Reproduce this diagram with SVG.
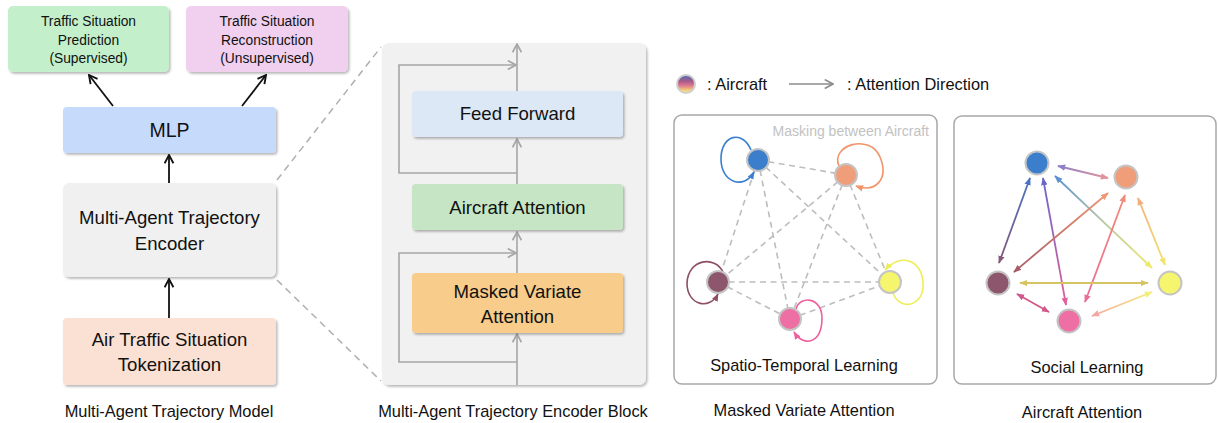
<svg xmlns="http://www.w3.org/2000/svg" width="1218" height="423" viewBox="0 0 1218 423">
  <defs>
    <style>
      text { font-family: "Liberation Sans", Arial, sans-serif; fill: #111; text-anchor: middle; }
      .t12 { font-size: 13.8px; }
      .t17 { font-size: 18.6px; }
      .cap { font-size: 16.4px; }
      .legend { font-size: 16.4px; text-anchor: start; }
      .box { stroke: none; filter: url(#shadow); }
      .blk-arrow { fill: none; stroke: #a6a6a6; stroke-width: 1.6; marker-end: url(#chev-gray); }
      .main-arrow { fill: none; stroke: #111; stroke-width: 1.8; marker-end: url(#chev-black); }
      .zoom-line { fill: none; stroke: #b0b0b0; stroke-width: 1.5; stroke-dasharray: 7 5; }
      .mask-line { fill: none; stroke: #bdbdbd; stroke-width: 1.6; stroke-dasharray: 6 4.5; }
      .panel { fill: #fff; stroke: #a8a8a8; stroke-width: 1.5; }
      .node { stroke: #c4c4c4; stroke-width: 2; }
      .loop { fill: none; stroke-width: 1.6; }
      .att { fill: none; stroke-width: 1.8; }
    </style>

    <filter id="shadow" x="-10%" y="-10%" width="125%" height="130%">
      <feDropShadow dx="1.5" dy="1.8" stdDeviation="1.2" flood-color="#000" flood-opacity="0.28"/>
    </filter>

    <!-- open chevron arrowheads -->
    <marker id="chev-black" viewBox="0 0 10 10" refX="9" refY="5" markerWidth="11" markerHeight="11" markerUnits="userSpaceOnUse" orient="auto">
      <path d="M1.5,1 L9,5 L1.5,9" fill="none" stroke="#111" stroke-width="1.7"/>
    </marker>
    <marker id="chev-gray" viewBox="0 0 10 10" refX="9" refY="5" markerWidth="11" markerHeight="11" markerUnits="userSpaceOnUse" orient="auto">
      <path d="M1.5,1 L9,5 L1.5,9" fill="none" stroke="#a6a6a6" stroke-width="1.5"/>
    </marker>
    <marker id="chev-legend" viewBox="0 0 10 10" refX="9" refY="5" markerWidth="11" markerHeight="11" markerUnits="userSpaceOnUse" orient="auto">
      <path d="M1.5,1 L9,5 L1.5,9" fill="none" stroke="#8c8c8c" stroke-width="1.5"/>
    </marker>

    <!-- filled arrowheads for self loops and attention edges -->
    <marker id="h-blue" viewBox="0 0 10 10" refX="9" refY="5" markerWidth="8" markerHeight="8" markerUnits="userSpaceOnUse" orient="auto-start-reverse"><path d="M0,1 L10,5 L0,9 z" fill="#3a7fd0"/></marker>
    <marker id="h-orange" viewBox="0 0 10 10" refX="9" refY="5" markerWidth="8" markerHeight="8" markerUnits="userSpaceOnUse" orient="auto-start-reverse"><path d="M0,1 L10,5 L0,9 z" fill="#f2946a"/></marker>
    <marker id="h-maroon" viewBox="0 0 10 10" refX="9" refY="5" markerWidth="8" markerHeight="8" markerUnits="userSpaceOnUse" orient="auto-start-reverse"><path d="M0,1 L10,5 L0,9 z" fill="#8e4f66"/></marker>
    <marker id="h-yellow" viewBox="0 0 10 10" refX="9" refY="5" markerWidth="8" markerHeight="8" markerUnits="userSpaceOnUse" orient="auto-start-reverse"><path d="M0,1 L10,5 L0,9 z" fill="#eeee5c"/></marker>
    <marker id="h-pink" viewBox="0 0 10 10" refX="9" refY="5" markerWidth="8" markerHeight="8" markerUnits="userSpaceOnUse" orient="auto-start-reverse"><path d="M0,1 L10,5 L0,9 z" fill="#ec5f9c"/></marker>

    <marker id="a-bo1" viewBox="0 0 10 10" refX="9" refY="5" markerWidth="8" markerHeight="8" markerUnits="userSpaceOnUse" orient="auto-start-reverse"><path d="M0,1 L10,5 L0,9 z" fill="#8e7fc6"/></marker>
    <marker id="a-bo2" viewBox="0 0 10 10" refX="9" refY="5" markerWidth="8" markerHeight="8" markerUnits="userSpaceOnUse" orient="auto-start-reverse"><path d="M0,1 L10,5 L0,9 z" fill="#e3939a"/></marker>
    <marker id="a-bm1" viewBox="0 0 10 10" refX="9" refY="5" markerWidth="8" markerHeight="8" markerUnits="userSpaceOnUse" orient="auto-start-reverse"><path d="M0,1 L10,5 L0,9 z" fill="#4a72c2"/></marker>
    <marker id="a-bm2" viewBox="0 0 10 10" refX="9" refY="5" markerWidth="8" markerHeight="8" markerUnits="userSpaceOnUse" orient="auto-start-reverse"><path d="M0,1 L10,5 L0,9 z" fill="#86587a"/></marker>
    <marker id="a-bp1" viewBox="0 0 10 10" refX="9" refY="5" markerWidth="8" markerHeight="8" markerUnits="userSpaceOnUse" orient="auto-start-reverse"><path d="M0,1 L10,5 L0,9 z" fill="#6a66cc"/></marker>
    <marker id="a-bp2" viewBox="0 0 10 10" refX="9" refY="5" markerWidth="8" markerHeight="8" markerUnits="userSpaceOnUse" orient="auto-start-reverse"><path d="M0,1 L10,5 L0,9 z" fill="#e0609c"/></marker>
    <marker id="a-by1" viewBox="0 0 10 10" refX="9" refY="5" markerWidth="8" markerHeight="8" markerUnits="userSpaceOnUse" orient="auto-start-reverse"><path d="M0,1 L10,5 L0,9 z" fill="#5a92d0"/></marker>
    <marker id="a-by2" viewBox="0 0 10 10" refX="9" refY="5" markerWidth="8" markerHeight="8" markerUnits="userSpaceOnUse" orient="auto-start-reverse"><path d="M0,1 L10,5 L0,9 z" fill="#eeea70"/></marker>
    <marker id="a-om1" viewBox="0 0 10 10" refX="9" refY="5" markerWidth="8" markerHeight="8" markerUnits="userSpaceOnUse" orient="auto-start-reverse"><path d="M0,1 L10,5 L0,9 z" fill="#ee9672"/></marker>
    <marker id="a-om2" viewBox="0 0 10 10" refX="9" refY="5" markerWidth="8" markerHeight="8" markerUnits="userSpaceOnUse" orient="auto-start-reverse"><path d="M0,1 L10,5 L0,9 z" fill="#a85a66"/></marker>
    <marker id="a-op1" viewBox="0 0 10 10" refX="9" refY="5" markerWidth="8" markerHeight="8" markerUnits="userSpaceOnUse" orient="auto-start-reverse"><path d="M0,1 L10,5 L0,9 z" fill="#f08a78"/></marker>
    <marker id="a-op2" viewBox="0 0 10 10" refX="9" refY="5" markerWidth="8" markerHeight="8" markerUnits="userSpaceOnUse" orient="auto-start-reverse"><path d="M0,1 L10,5 L0,9 z" fill="#ec6c96"/></marker>
    <marker id="a-oy1" viewBox="0 0 10 10" refX="9" refY="5" markerWidth="8" markerHeight="8" markerUnits="userSpaceOnUse" orient="auto-start-reverse"><path d="M0,1 L10,5 L0,9 z" fill="#f2ae78"/></marker>
    <marker id="a-oy2" viewBox="0 0 10 10" refX="9" refY="5" markerWidth="8" markerHeight="8" markerUnits="userSpaceOnUse" orient="auto-start-reverse"><path d="M0,1 L10,5 L0,9 z" fill="#f0e46e"/></marker>
    <marker id="a-my" viewBox="0 0 10 10" refX="9" refY="5" markerWidth="8" markerHeight="8" markerUnits="userSpaceOnUse" orient="auto-start-reverse"><path d="M0,1 L10,5 L0,9 z" fill="#d6c462"/></marker>
    <marker id="a-mp" viewBox="0 0 10 10" refX="9" refY="5" markerWidth="8" markerHeight="8" markerUnits="userSpaceOnUse" orient="auto-start-reverse"><path d="M0,1 L10,5 L0,9 z" fill="#d0588a"/></marker>
    <marker id="a-py1" viewBox="0 0 10 10" refX="9" refY="5" markerWidth="8" markerHeight="8" markerUnits="userSpaceOnUse" orient="auto-start-reverse"><path d="M0,1 L10,5 L0,9 z" fill="#f6a6a0"/></marker>
    <marker id="a-py2" viewBox="0 0 10 10" refX="9" refY="5" markerWidth="8" markerHeight="8" markerUnits="userSpaceOnUse" orient="auto-start-reverse"><path d="M0,1 L10,5 L0,9 z" fill="#f2ee7a"/></marker>

    <!-- edge gradients (attention between aircraft) -->
    <linearGradient id="g-bo" gradientUnits="userSpaceOnUse" x1="1058" y1="166" x2="1108" y2="178"><stop offset="0" stop-color="#8e7fc6"/><stop offset="1" stop-color="#e3939a"/></linearGradient>
    <linearGradient id="g-bm" gradientUnits="userSpaceOnUse" x1="1030" y1="178" x2="999" y2="263"><stop offset="0" stop-color="#4a72c2"/><stop offset="1" stop-color="#86587a"/></linearGradient>
    <linearGradient id="g-bp" gradientUnits="userSpaceOnUse" x1="1043" y1="178" x2="1066" y2="305"><stop offset="0" stop-color="#6a66cc"/><stop offset="1" stop-color="#e0609c"/></linearGradient>
    <linearGradient id="g-by" gradientUnits="userSpaceOnUse" x1="1055" y1="176" x2="1152" y2="268"><stop offset="0" stop-color="#5a92d0"/><stop offset="0.5" stop-color="#b8c8a8"/><stop offset="1" stop-color="#eeea70"/></linearGradient>
    <linearGradient id="g-om" gradientUnits="userSpaceOnUse" x1="1108" y1="193" x2="1014" y2="272"><stop offset="0" stop-color="#ee9672"/><stop offset="1" stop-color="#a85a66"/></linearGradient>
    <linearGradient id="g-op" gradientUnits="userSpaceOnUse" x1="1125" y1="195" x2="1085" y2="302"><stop offset="0" stop-color="#f08a78"/><stop offset="1" stop-color="#ec6c96"/></linearGradient>
    <linearGradient id="g-oy" gradientUnits="userSpaceOnUse" x1="1138" y1="198" x2="1165" y2="265"><stop offset="0" stop-color="#f2ae78"/><stop offset="1" stop-color="#f0e46e"/></linearGradient>
    <linearGradient id="g-py" gradientUnits="userSpaceOnUse" x1="1092" y1="316" x2="1152" y2="292"><stop offset="0" stop-color="#f6a6a0"/><stop offset="1" stop-color="#f2ee7a"/></linearGradient>

    <!-- legend aircraft swatch -->
    <linearGradient id="g-legend" x1="0" y1="0" x2="0" y2="1">
      <stop offset="0" stop-color="#4a6fb8"/>
      <stop offset="0.35" stop-color="#a85a88"/>
      <stop offset="0.6" stop-color="#e07c92"/>
      <stop offset="0.82" stop-color="#f2c878"/>
      <stop offset="1" stop-color="#f4ec94"/>
    </linearGradient>
  </defs>

  <rect width="1218" height="423" fill="#ffffff"/>

  <!-- ===== Multi-Agent Trajectory Model ===== -->
  <g id="node-prediction">
    <rect class="box" x="8" y="6" width="161" height="66" rx="5" fill="#c3efcb"/>
    <text class="t12" x="88.5" y="26">Traffic Situation</text>
    <text class="t12" x="88.5" y="44.5">Prediction</text>
    <text class="t12" x="88.5" y="63">(Supervised)</text>
  </g>
  <g id="node-reconstruction">
    <rect class="box" x="186" y="6" width="162" height="66" rx="5" fill="#f0d0ee"/>
    <text class="t12" x="267" y="26">Traffic Situation</text>
    <text class="t12" x="267" y="44.5">Reconstruction</text>
    <text class="t12" x="267" y="63">(Unsupervised)</text>
  </g>
  <g id="node-mlp">
    <rect class="box" x="63" y="107" width="213" height="46" rx="4" fill="#c6dbfb"/>
    <text x="169.5" y="137" style="font-size:19.5px;">MLP</text>
  </g>
  <g id="node-encoder">
    <rect class="box" x="63" y="183" width="213" height="94" rx="6" fill="#f0f0f0" stroke="#dadada" stroke-width="1"/>
    <text class="t17" x="169.5" y="223.5">Multi-Agent Trajectory</text>
    <text class="t17" x="169.5" y="249.5">Encoder</text>
  </g>
  <g id="node-tokenization">
    <rect class="box" x="63" y="318" width="213" height="67" rx="4" fill="#fbe1d4"/>
    <text class="t17" x="169.5" y="345.5">Air Traffic Situation</text>
    <text class="t17" x="169.5" y="370.5">Tokenization</text>
  </g>
  <text id="caption-model" class="cap" x="169" y="417">Multi-Agent Trajectory Model</text>

  <!-- ===== Encoder block ===== -->
  <g id="encoder-block">
    <rect class="box" x="382" y="43" width="264" height="342" rx="7" fill="#f1f1f1" stroke="#d4d4d4" stroke-width="1"/>
  </g>

  <g id="connectors">
    <!-- model column -->
    <path class="main-arrow" d="M113,106 L89,75"/>
    <path class="main-arrow" d="M242,106 L266,75"/>
    <path class="main-arrow" d="M169,183 L169,155"/>
    <path class="main-arrow" d="M169,318 L169,279"/>

    <!-- zoom guides to the encoder block -->
    <path class="zoom-line" d="M277,180 L381,47"/>
    <path class="zoom-line" d="M277,280 L381,381"/>

    <!-- encoder block data path -->
    <path class="blk-arrow" d="M517,385 L517,334"/>
    <path class="blk-arrow" d="M517,273 L517,232"/>
    <path class="blk-arrow" d="M517,184 L517,139"/>
    <path class="blk-arrow" d="M517,91 L517,44"/>
    <!-- residual connections -->
    <path class="blk-arrow" d="M517,362 H399 V253 H516"/>
    <path class="blk-arrow" d="M517,173 H399 V65 H516"/>

    <!-- legend arrow -->
    <path fill="none" stroke="#8c8c8c" stroke-width="1.6" marker-end="url(#chev-legend)" d="M789,84 L833,84"/>
  </g>

  <g id="node-feed-forward">
    <rect class="box" x="412" y="91" width="211" height="46" rx="4" fill="#dce8f6"/>
    <text class="t17" x="517.5" y="120">Feed Forward</text>
  </g>
  <g id="node-aircraft-attention">
    <rect class="box" x="412" y="184" width="211" height="46" rx="4" fill="#c5e5c4"/>
    <text class="t17" x="517.5" y="213.5">Aircraft Attention</text>
  </g>
  <g id="node-masked-variate-attention">
    <rect class="box" x="412" y="273" width="211" height="60" rx="4" fill="#f8cc8a"/>
    <text class="t17" x="517.5" y="297.5">Masked Variate</text>
    <text class="t17" x="517.5" y="322.5">Attention</text>
  </g>
  <text id="caption-block" class="cap" x="513" y="417">Multi-Agent Trajectory Encoder Block</text>

  <!-- ===== Legend ===== -->
  <g id="legend">
    <circle cx="686" cy="84" r="9" fill="url(#g-legend)" stroke="#cfcfcf" stroke-width="2"/>
    <text class="legend" x="707" y="90">: Aircraft</text>
    <text class="legend" x="847" y="90">: Attention Direction</text>
  </g>

  <!-- ===== Masked variate attention panel ===== -->
  <g id="panel-mva">
    <rect class="panel" x="674" y="115" width="263" height="269" rx="8"/>
    <text x="929" y="135.5" style="font-size:14px; fill:#c2c2c2; text-anchor:end;">Masking between Aircraft</text>

    <g id="mva-masks">
      <path class="mask-line" d="M758,160 L846,175"/>
      <path class="mask-line" d="M758,160 L718,282"/>
      <path class="mask-line" d="M758,160 L790,319"/>
      <path class="mask-line" d="M758,160 L890,282"/>
      <path class="mask-line" d="M846,175 L718,282"/>
      <path class="mask-line" d="M846,175 L790,319"/>
      <path class="mask-line" d="M846,175 L890,282"/>
      <path class="mask-line" d="M718,282 L890,282"/>
      <path class="mask-line" d="M718,282 L790,319"/>
      <path class="mask-line" d="M790,319 L890,282"/>
    </g>

    <g id="mva-loops">
      <path class="loop" stroke="#3a7fd0" marker-end="url(#h-blue)" d="M751,150 C743,130 721,134 721,159 C721,183 744,190 754,172"/>
      <path class="loop" stroke="#f2946a" marker-end="url(#h-orange)" d="M839,166 C830,145 870,133 880,157 C889,179 876,193 856,186"/>
      <path class="loop" stroke="#8e4f66" marker-end="url(#h-maroon)" d="M723,272 C715,255 688,259 687,283 C687,306 710,310 718,294"/>
      <path class="loop" stroke="#eeee5c" marker-end="url(#h-yellow)" d="M893,293 C900,312 925,306 923,283 C922,259 900,253 885,270"/>
      <path class="loop" stroke="#ec5f9c" marker-end="url(#h-pink)" d="M796,309 C800,295 822,297 822,318 C822,343 804,348 794,332"/>
    </g>

    <g id="mva-aircraft">
      <circle class="node" cx="758" cy="160" r="11" fill="#3b7fcc"/>
      <circle class="node" cx="846" cy="175" r="11" fill="#f09e7a"/>
      <circle class="node" cx="718" cy="282" r="11" fill="#8e566c"/>
      <circle class="node" cx="890" cy="282" r="11" fill="#f5f56e"/>
      <circle class="node" cx="790" cy="319" r="11" fill="#ee6fa4"/>
    </g>
    <text class="cap" x="804" y="371">Spatio-Temporal Learning</text>
  </g>
  <text id="caption-mva" class="cap" x="804" y="416">Masked Variate Attention</text>

  <!-- ===== Aircraft attention panel ===== -->
  <g id="panel-aa">
    <rect class="panel" x="954" y="116" width="262" height="268" rx="8"/>

    <g id="aa-edges">
      <path class="att" stroke="url(#g-bo)" marker-start="url(#a-bo1)" marker-end="url(#a-bo2)" d="M1058,166 L1108,178"/>
      <path class="att" stroke="url(#g-bm)" marker-start="url(#a-bm1)" marker-end="url(#a-bm2)" d="M1030,178 L999,263"/>
      <path class="att" stroke="url(#g-bp)" marker-start="url(#a-bp1)" marker-end="url(#a-bp2)" d="M1043,178 L1066,305"/>
      <path class="att" stroke="url(#g-by)" marker-start="url(#a-by1)" marker-end="url(#a-by2)" d="M1055,176 L1152,268"/>
      <path class="att" stroke="url(#g-om)" marker-start="url(#a-om1)" marker-end="url(#a-om2)" d="M1108,193 L1014,272"/>
      <path class="att" stroke="url(#g-op)" marker-start="url(#a-op1)" marker-end="url(#a-op2)" d="M1125,195 L1085,302"/>
      <path class="att" stroke="url(#g-oy)" marker-start="url(#a-oy1)" marker-end="url(#a-oy2)" d="M1138,198 L1165,265"/>
      <path class="att" stroke="#d6c462" marker-start="url(#a-my)" marker-end="url(#a-my)" d="M1020,283 L1148,283"/>
      <path class="att" stroke="#d0588a" marker-start="url(#a-mp)" marker-end="url(#a-mp)" d="M1017,294 L1049,312"/>
      <path class="att" stroke="url(#g-py)" marker-start="url(#a-py1)" marker-end="url(#a-py2)" d="M1092,316 L1152,292"/>
    </g>

    <g id="aa-aircraft">
      <circle class="node" cx="1037" cy="163" r="11.5" fill="#3b7fcc"/>
      <circle class="node" cx="1126" cy="177" r="11.5" fill="#f09e7a"/>
      <circle class="node" cx="998" cy="283" r="11.5" fill="#8e566c"/>
      <circle class="node" cx="1170" cy="283" r="11.5" fill="#f5f56e"/>
      <circle class="node" cx="1069" cy="321" r="11.5" fill="#ee6fa4"/>
    </g>
    <text class="cap" x="1087" y="373">Social Learning</text>
  </g>
  <text id="caption-aa" class="cap" x="1082" y="418">Aircraft Attention</text>
</svg>
